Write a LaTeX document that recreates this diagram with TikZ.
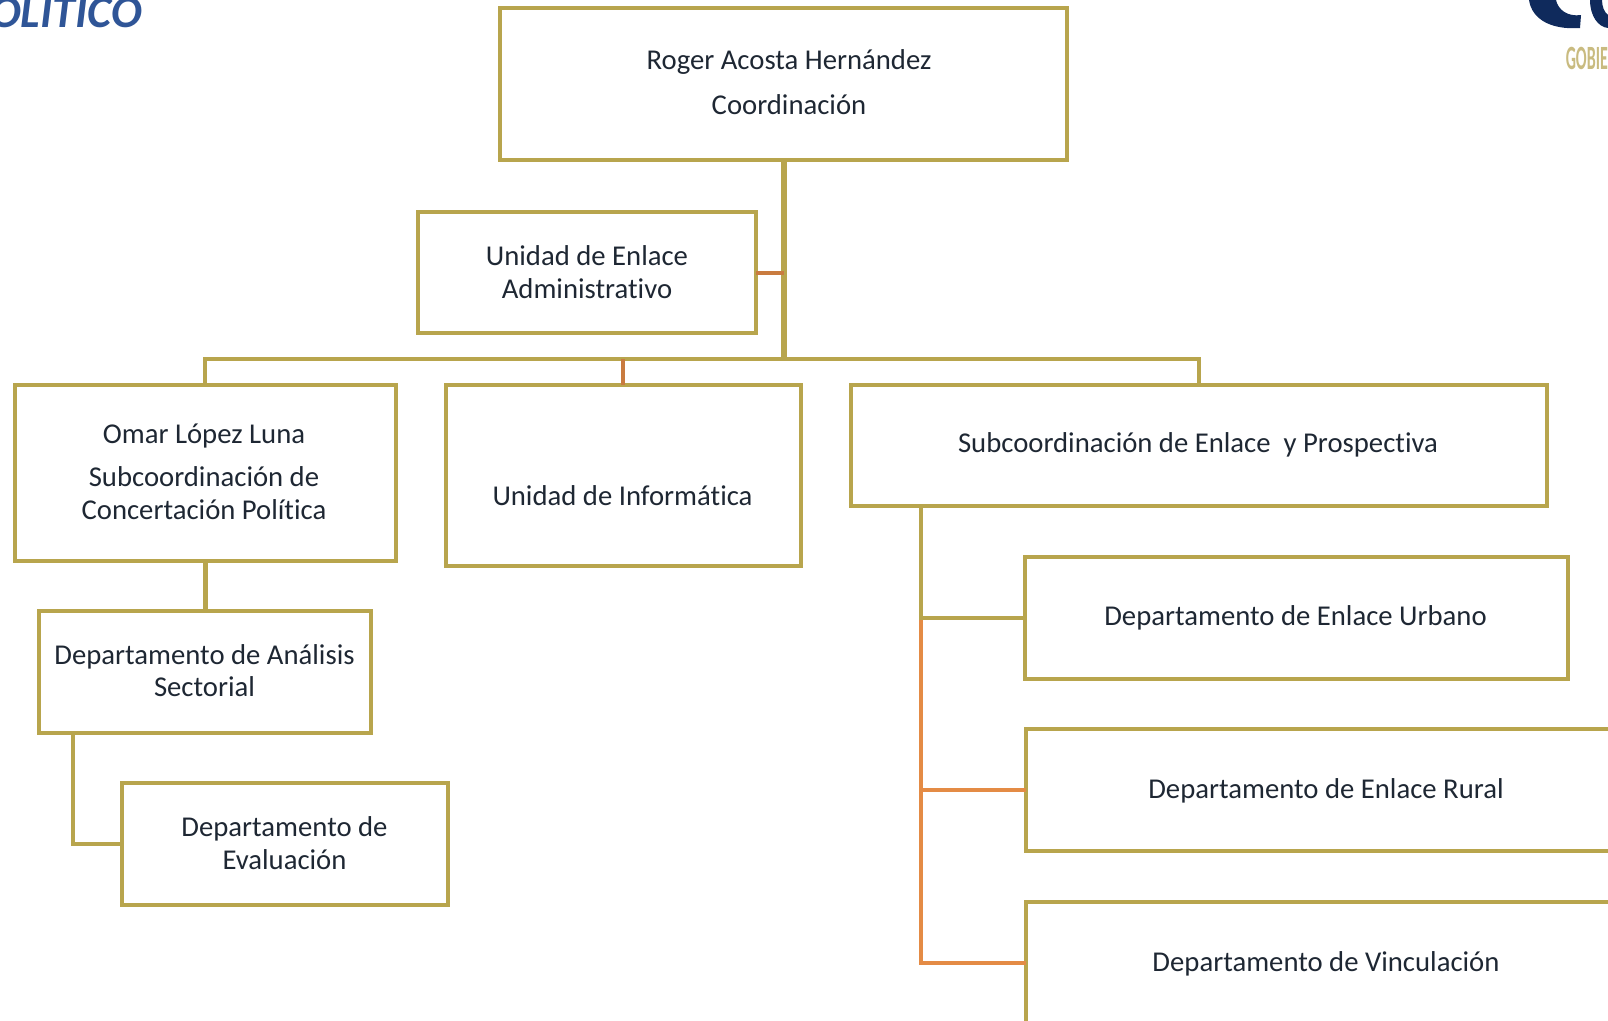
\documentclass[tikz,border=0pt]{standalone}
\usepackage{fontspec}
\setmainfont{Carlito}[Ligatures=NoCommon]
\definecolor{boxgold}{HTML}{B8A54D}
\definecolor{linkorange}{HTML}{E48B45}
\definecolor{linkbrown}{HTML}{C97B3F}
\definecolor{textdark}{HTML}{1E2733}
\definecolor{titleblue}{HTML}{2F5597}
\definecolor{logonavy}{HTML}{0F2A5C}
\definecolor{logotan}{HTML}{C9BB80}
\tikzset{
    orgbox/.style={draw=boxgold,line width=4pt,inner sep=0pt,outer sep=0pt},
    orgtext/.style={text=textdark,font=\fontsize{28.7}{32.5}\selectfont,align=center,inner sep=0pt},
    goldlink/.style={draw=boxgold,line width=4pt},
    orangelink/.style={draw=linkorange,line width=4pt},
    brownlink/.style={draw=linkbrown,line width=4pt}
}

\begin{document}
\begin{tikzpicture}[x=1pt,y=-1pt]
    \useasboundingbox (0,0) rectangle (1608,1020);
    \clip (0,0) rectangle (1608,1020);

    \node[orgbox,minimum width=567pt,minimum height=152pt] (rogerbox) at (783,84) {};
    \node[orgbox,minimum width=338pt,minimum height=121pt] (enlacebox) at (587,272.5) {};

    \node[orgbox,minimum width=381pt,minimum height=176pt] (omarbox) at (205,473) {};
    \node[orgbox,minimum width=355pt,minimum height=181pt] (informaticabox) at (623,475.5) {};
    \node[orgbox,minimum width=696pt,minimum height=121pt] (subcoordbox) at (1199,445.5) {};

    \node[orgbox,minimum width=332pt,minimum height=122pt] (analisisbox) at (205,672) {};
    \node[orgbox,minimum width=326pt,minimum height=122pt] (evaluacionbox) at (285,844) {};

    \node[orgbox,minimum width=543pt,minimum height=122pt] (urbanobox) at (1296.5,618) {};
    \node[orgbox,minimum width=603pt,minimum height=122pt] (ruralbox) at (1327.5,790) {};
    \node[orgbox,minimum width=603pt,minimum height=122pt] (vinculacionbox) at (1327.5,963) {};

    \node[orgtext] (rogertext) at (789,82.5) {Roger Acosta Hernández\\[12.5pt]Coordinación};
    \node[orgtext] (enlacetext) at (587,272) {Unidad de Enlace\\Administrativo};
    \node[orgtext] (omartext) at (204,472) {Omar López Luna\\[10.5pt]Subcoordinación de\\Concertación Política};
    \node[orgtext] (informaticatext) at (622.5,496) {Unidad de Informática};
    \node[orgtext] (subcoordtext) at (1198,444.5) {Subcoordinación de Enlace\ \ y Prospectiva};
    \node[orgtext] (analisistext) at (204.5,670.5) {Departamento de Análisis\\Sectorial};
    \node[orgtext] (evaluaciontext) at (284.5,843) {Departamento de\\Evaluación};
    \node[orgtext] (urbanotext) at (1295.5,617.5) {Departamento de Enlace Urbano};
    \node[orgtext] (ruraltext) at (1326,790.5) {Departamento de Enlace Rural};
    \node[orgtext] (vinculaciontext) at (1326,963.5) {Departamento de Vinculación};

    \coordinate (busjoin) at (784,359);
    \coordinate (subtap) at (921,506);

    \draw[goldlink,line width=6pt] (rogerbox.south -| busjoin) -- (busjoin);
    \draw[brownlink] (enlacebox.east) -- (enlacebox.east -| busjoin);
    \draw[goldlink] (omarbox.north) |- (busjoin) -| (subcoordbox.north);
    \draw[brownlink] (informaticabox.north) -- (informaticabox.north |- busjoin);

    \draw[goldlink,line width=5pt] (omarbox.south) -- (analisisbox.north);
    \draw[goldlink] (analisisbox.south -| 73,0) |- (evaluacionbox.west);

    \draw[orangelink] (subtap |- urbanobox.west) -- (subtap |- vinculacionbox.west) -- (vinculacionbox.west);
    \draw[orangelink] (subtap |- ruralbox.west) -- (ruralbox.west);
    \draw[goldlink] (subtap) -- (subtap |- urbanobox.west) -- (urbanobox.west);

    \node[text=titleblue,font=\fontsize{46}{46}\selectfont\bfseries\itshape,anchor=base west,inner sep=0pt] (titletext) at (-10,27) {OLITICO};

    \fill[logonavy] (1529,0) .. controls (1532,20) and (1552,30) .. (1580,28) -- (1581,15) .. controls (1568,17) and (1558,10) .. (1556,0) -- cycle;
    \fill[logonavy] (1590,0) .. controls (1590,16) and (1598,27) .. (1608,28) -- (1608,15) .. controls (1604,12) and (1602,6) .. (1602,0) -- cycle;
    \node[text=logotan,font=\bfseries\fontsize{20}{20}\selectfont,anchor=east,inner sep=0pt,xscale=0.8,yscale=1.7] (logotext) at (1608,58) {GOBIE};
\end{tikzpicture}
\end{document}
